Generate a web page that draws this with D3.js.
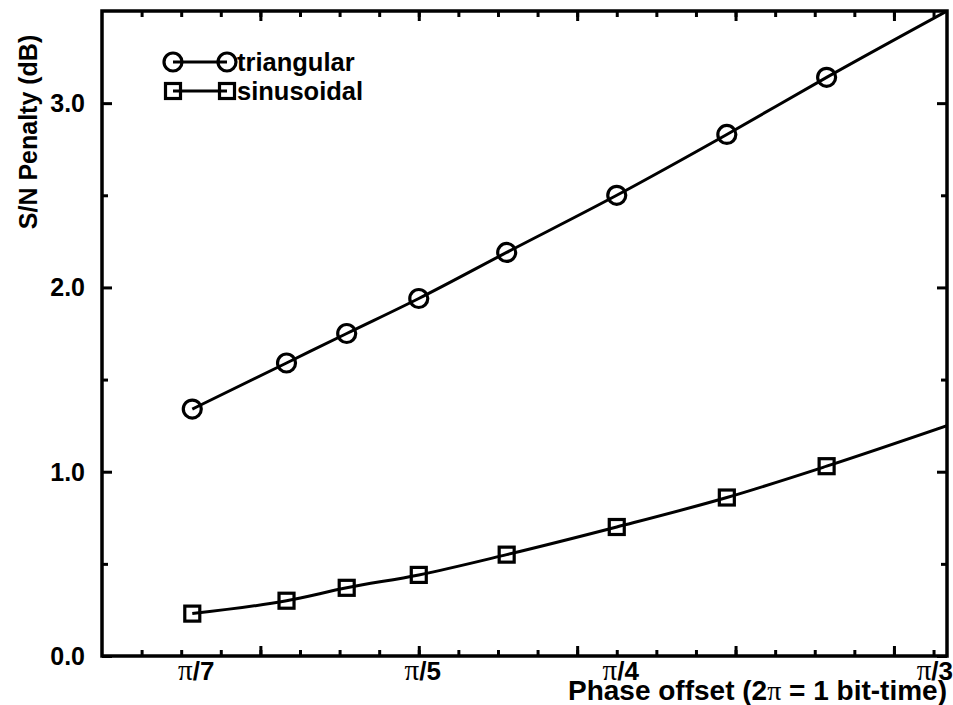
<!DOCTYPE html>
<html lang="en">
<head>
<meta charset="UTF-8">
<title>S/N Penalty vs Phase offset</title>
<style>
  body { margin: 0; background: #fff; }
  svg text { font-family: Arial, "Liberation Sans", sans-serif; font-weight: bold; fill: #000; }
  .pi { font-family: "Times New Roman", "Liberation Serif", serif; font-weight: normal; }
</style>
</head>
<body>
<div id="chart"></div>
<script src="https://d3js.org/d3.v7.min.js"></script>
<script>
// phase offset in bit-time units (2π = 1 bit-time)
const phase = [0.0714, 0.0833, 0.0909, 0.1, 0.1111, 0.125, 0.1389, 0.1515];
const triangular = [1.34, 1.59, 1.75, 1.94, 2.19, 2.50, 2.83, 3.14];
const sinusoidal = [0.23, 0.30, 0.37, 0.44, 0.55, 0.70, 0.86, 1.03];
// the fitted curves carry on to the right edge
const fitEndPhase = 0.1667;
const triangularEnd = 3.50;
const sinusoidalEnd = 1.25;
// axis ticks
const xTickValues = [0.0714, 0.1, 0.125, 0.1667];
const xTickLabels = ['/7', '/5', '/4', '/3'];
const yTickValues = [0, 1, 2, 3];
const yTickLabels = ['0.0', '1.0', '2.0', '3.0'];

const width = 953, height = 705;
const margin = {top: 11, right: 6, bottom: 49, left: 102};

const svg = d3.select('#chart').append('svg')
  .attr('width', width)
  .attr('height', height);

const x = d3.scaleLinear().domain([0.06, 0.1667]).range([margin.left, width - margin.right]);
const y = d3.scaleLinear().domain([0, 3.5]).range([height - margin.bottom, margin.top]);

svg.append('clipPath').attr('id', 'plot-clip')
  .append('rect')
  .attr('x', margin.left).attr('y', margin.top)
  .attr('width', width - margin.left - margin.right)
  .attr('height', height - margin.top - margin.bottom);

// inward ticks on all four sides
const xMinor = d3.range(0.065, 0.1667, 0.005);
const xMajor = [0.08, 0.10, 0.12, 0.14, 0.16];
const yMinor = d3.range(0.5, 3.5, 1);

function ticksX(vals, len) {
  svg.append('g')
    .attr('transform', `translate(0,${height - margin.bottom})`)
    .call(d3.axisBottom(x).tickValues(vals).tickSize(-len).tickFormat('').tickSizeOuter(0))
    .call(g => g.select('.domain').remove())
    .call(g => g.selectAll('line').attr('stroke-width', 3));
  svg.append('g')
    .attr('transform', `translate(0,${margin.top})`)
    .call(d3.axisTop(x).tickValues(vals).tickSize(-len).tickFormat('').tickSizeOuter(0))
    .call(g => g.select('.domain').remove())
    .call(g => g.selectAll('line').attr('stroke-width', 3));
}
function ticksY(vals, len) {
  svg.append('g')
    .attr('transform', `translate(${margin.left},0)`)
    .call(d3.axisLeft(y).tickValues(vals).tickSize(-len).tickFormat('').tickSizeOuter(0))
    .call(g => g.select('.domain').remove())
    .call(g => g.selectAll('line').attr('stroke-width', 3));
  svg.append('g')
    .attr('transform', `translate(${width - margin.right},0)`)
    .call(d3.axisRight(y).tickValues(vals).tickSize(-len).tickFormat('').tickSizeOuter(0))
    .call(g => g.select('.domain').remove())
    .call(g => g.selectAll('line').attr('stroke-width', 3));
}
ticksX(xMinor, 6);
ticksX(xMajor, 10);
ticksY(yMinor, 6);
ticksY(yTickValues, 10);

// frame
svg.append('rect')
  .attr('x', margin.left).attr('y', margin.top)
  .attr('width', width - margin.left - margin.right)
  .attr('height', height - margin.top - margin.bottom)
  .attr('fill', 'none')
  .attr('stroke', '#000')
  .attr('stroke-width', 3.5);

// y tick labels
svg.append('g').selectAll('text')
  .data(yTickValues)
  .join('text')
  .attr('x', margin.left - 17)
  .attr('y', d => y(d))
  .attr('dy', '0.36em')
  .attr('text-anchor', 'end')
  .attr('font-size', 25)
  .text((d, i) => yTickLabels[i]);

// x tick labels (π/n)
const xl = svg.append('g').selectAll('text')
  .data(xTickValues)
  .join('text')
  .attr('x', (d, i) => i === xTickValues.length - 1 ? width : x(d) + 4)
  .attr('y', height - margin.bottom + 24)
  .attr('text-anchor', (d, i) => i === xTickValues.length - 1 ? 'end' : 'middle')
  .attr('font-size', 26);
xl.append('tspan').attr('class', 'pi').attr('font-size', 29).text('π');
xl.append('tspan').text((d, i) => xTickLabels[i]);

// axis titles
svg.append('text')
  .attr('transform', `translate(37,132) rotate(-90)`)
  .attr('text-anchor', 'middle')
  .attr('font-size', 25)
  .text('S/N Penalty (dB)');

const xt = svg.append('text')
  .attr('x', width - 6)
  .attr('y', height - 5)
  .attr('text-anchor', 'end')
  .attr('font-size', 28);
xt.append('tspan').text('Phase offset (2');
xt.append('tspan').attr('class', 'pi').text('π');
xt.append('tspan').text(' = 1 bit-time)');

// curves
const line = d3.line()
  .x(d => x(d[0]))
  .y(d => y(d[1]))
  .curve(d3.curveMonotoneX);

const series = [
  {name: 'triangular', values: triangular, end: triangularEnd, shape: 'circle'},
  {name: 'sinusoidal', values: sinusoidal, end: sinusoidalEnd, shape: 'square'}
];

const plot = svg.append('g').attr('clip-path', 'url(#plot-clip)');

series.forEach(s => {
  const pts = phase.map((p, i) => [p, s.values[i]]);
  plot.append('path')
    .datum(pts.concat([[fitEndPhase, s.end]]))
    .attr('d', line)
    .attr('fill', 'none')
    .attr('stroke', '#000')
    .attr('stroke-width', 3);
});

function marker(g, shape, cx, cy) {
  if (shape === 'circle') {
    g.append('circle')
      .attr('cx', cx).attr('cy', cy).attr('r', 9)
      .attr('fill', 'none').attr('stroke', '#000').attr('stroke-width', 3.2);
  } else {
    g.append('rect')
      .attr('x', cx - 7.5).attr('y', cy - 7.5)
      .attr('width', 15).attr('height', 15)
      .attr('fill', 'none').attr('stroke', '#000').attr('stroke-width', 3.2);
  }
}

const marks = svg.append('g');
series.forEach(s => {
  phase.forEach((p, i) => marker(marks, s.shape, x(p), y(s.values[i])));
});

// legend
const legend = svg.append('g');
series.forEach((s, i) => {
  const ly = 62 + i * 29;
  legend.append('line')
    .attr('x1', 173).attr('x2', 227)
    .attr('y1', ly).attr('y2', ly)
    .attr('stroke', '#000').attr('stroke-width', 3);
  marker(legend, s.shape, 173, ly);
  marker(legend, s.shape, 227, ly);
  legend.append('text')
    .attr('x', 237)
    .attr('y', ly)
    .attr('dy', '0.36em')
    .attr('font-size', 25.5)
    .text(s.name);
});
</script>
</body>
</html>
